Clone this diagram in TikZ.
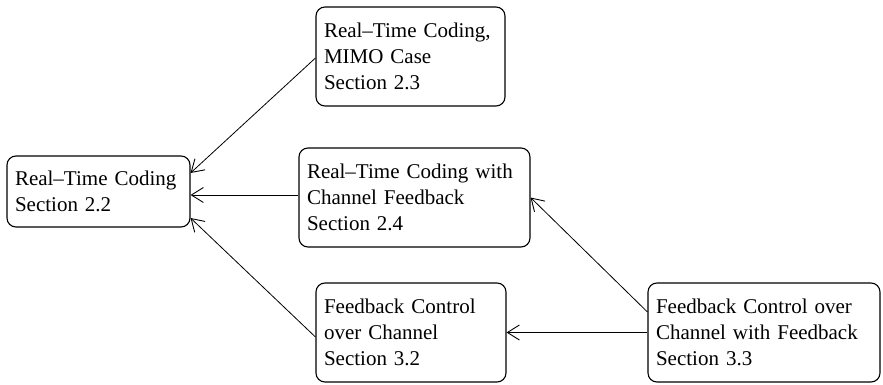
\documentclass[tikz,border=0pt]{standalone}
\usepackage{fontspec}
\setmainfont{Liberation Serif}
\usetikzlibrary{arrows.meta}
\begin{document}
\begin{tikzpicture}[x=1pt,y=-1pt,
  box/.style={draw, line width=1.1pt, rounded corners=9pt, align=left, anchor=center,
    inner xsep=8pt, font=\fontsize{21}{26}\selectfont},
  link/.style={draw, line width=0.8pt, -{Straight Barb[length=12pt,width=15pt,line width=0.9pt]}}]
\useasboundingbox (0,0) rectangle (883,385);
\node[box, minimum width=183pt, minimum height=71pt, text width=167pt] (A) at (98.5,191.5) {Real–Time Coding\\Section 2.2};
\node[box, minimum width=189pt, minimum height=99pt, text width=173pt] (B) at (410.5,56.5) {Real–Time Coding,\\MIMO Case\\Section 2.3};
\node[box, minimum width=231pt, minimum height=99pt, text width=215pt] (C) at (414.5,197.5) {Real–Time Coding with\\Channel Feedback\\Section 2.4};
\node[box, minimum width=190pt, minimum height=99pt, text width=174pt] (D) at (411,332.5) {Feedback Control\\over Channel\\Section 3.2};
\node[box, minimum width=232pt, minimum height=99pt, text width=216pt] (E) at (764,332.5) {Feedback Control over\\Channel with Feedback\\Section 3.3};
\draw[link] ([yshift=-1.5pt]B.west) -- ([yshift=18.5pt]A.east);
\draw[link] ([yshift=2.5pt]C.west) -- ([yshift=-3.5pt]A.east);
\draw[link] ([yshift=-4.5pt]D.west) -- ([yshift=-26.5pt]A.east);
\draw[link] (E.west) -- (D.east);
\draw[link] ([yshift=20.5pt]E.west) -- (C.east);
\end{tikzpicture}
\end{document}
